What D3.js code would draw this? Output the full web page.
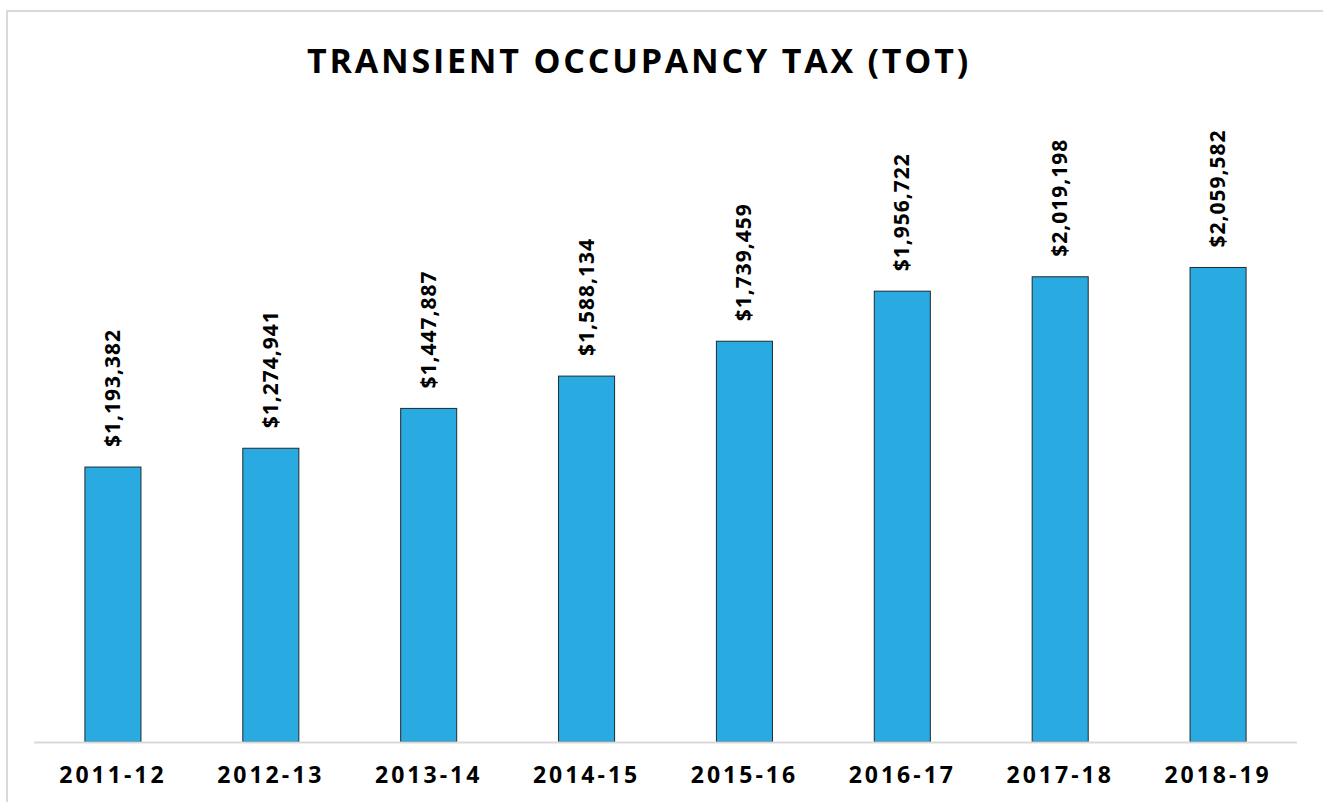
<!DOCTYPE html>
<html>
<head>
<meta charset="utf-8">
<script src="https://cdn.jsdelivr.net/npm/d3@7"></script>
<style>
  body { margin: 0; background: #fff; }
  svg { display: block; font-family: "Open Sans", sans-serif; }
</style>
</head>
<body>
<svg id="chart"></svg>
<script>
var years = ["2011-12", "2012-13", "2013-14", "2014-15", "2015-16", "2016-17", "2017-18", "2018-19"];
var totValues = [1193382, 1274941, 1447887, 1588134, 1739459, 1956722, 2019198, 2059582];
var yMax = 2500000;

var width = 1323;
var height = 802;
var plot = { left: 34, right: 1297, top: 166, bottom: 742 };

var svg = d3.select("#chart")
    .attr("width", width)
    .attr("height", height);

// outer frame, runs off the right and bottom edges
svg.append("rect")
    .attr("x", 7)
    .attr("y", 11)
    .attr("width", width + 20)
    .attr("height", height + 20)
    .attr("fill", "none")
    .attr("stroke", "#d9d9d9")
    .attr("stroke-width", 2);

svg.append("text")
    .attr("x", 639)
    .attr("y", 73)
    .attr("text-anchor", "middle")
    .attr("font-size", "34px")
    .attr("font-weight", "bold")
    .attr("letter-spacing", "2.8px")
    .attr("fill", "#000")
    .text("TRANSIENT OCCUPANCY TAX (TOT)");

var data = years.map(function(y, i) {
  return { year: y, value: totValues[i] };
});

var xScale = d3.scaleBand()
    .domain(years)
    .range([plot.left, plot.right])
    .paddingInner(0.645)
    .paddingOuter(0.3225);

var yScale = d3.scaleLinear()
    .domain([0, yMax])
    .range([plot.bottom, plot.top]);

svg.append("g")
  .selectAll("rect")
  .data(data)
  .enter()
  .append("rect")
    .attr("x", function(d) { return xScale(d.year); })
    .attr("y", function(d) { return yScale(d.value); })
    .attr("width", xScale.bandwidth())
    .attr("height", function(d) { return plot.bottom - yScale(d.value); })
    .attr("fill", "#29abe2")
    .attr("stroke", "#1f2a30")
    .attr("stroke-width", 1);

// value labels, rotated
var fmt = d3.format("$,");
svg.append("g")
  .selectAll("text")
  .data(data)
  .enter()
  .append("text")
    .attr("transform", function(d) {
      var cx = xScale(d.year) + xScale.bandwidth() / 2;
      return "translate(" + (cx + 7) + "," + (yScale(d.value) - 20) + ") rotate(-90)";
    })
    .attr("text-anchor", "start")
    .attr("font-size", "21px")
    .attr("font-weight", "bold")
    .attr("letter-spacing", "1px")
    .attr("fill", "#000")
    .text(function(d) { return fmt(d.value); });

// x axis
var xAxis = d3.axisBottom(xScale).tickSize(0).tickPadding(25);
var gx = svg.append("g")
    .attr("transform", "translate(0," + plot.bottom + ")")
    .call(xAxis);
gx.select(".domain")
    .attr("d", "M" + plot.left + ",0.5H" + plot.right)
    .attr("stroke", "#d9d9d9")
    .attr("stroke-width", 2);
gx.selectAll("text")
    .attr("font-family", "'Open Sans', sans-serif")
    .attr("font-size", "23px")
    .attr("font-weight", "bold")
    .attr("letter-spacing", "3px")
    .attr("fill", "#000");
</script>
</body>
</html>
